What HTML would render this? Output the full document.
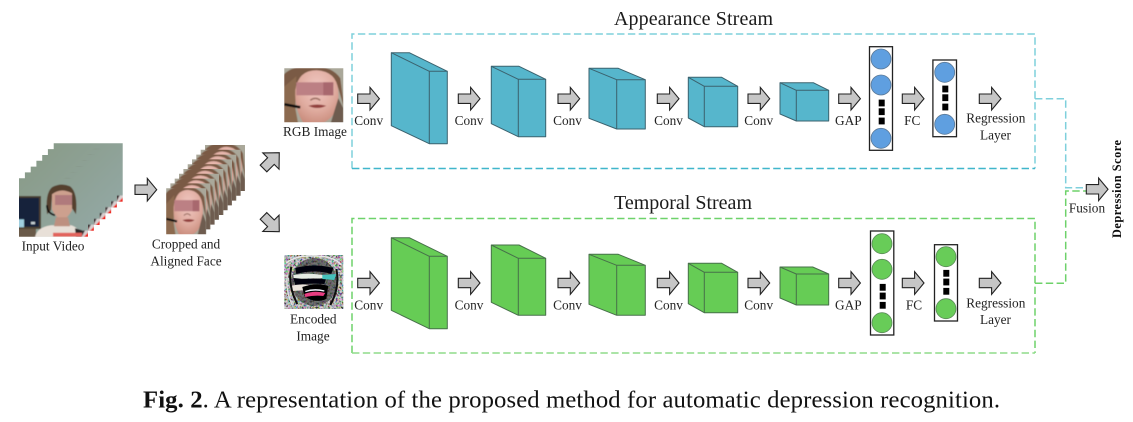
<!DOCTYPE html>
<html><head><meta charset="utf-8"><style>
html,body{margin:0;padding:0;background:#fff}
svg{display:block}
text{font-family:"Liberation Serif",serif;fill:#222}
.t{font-size:13.3px;text-anchor:middle}
.h{font-size:20px;fill:#1a1a1a}
</style></head><body>
<svg width="1133" height="422" viewBox="0 0 1133 422" xmlns="http://www.w3.org/2000/svg">
<defs>
<filter id="all" filterUnits="userSpaceOnUse" x="0" y="0" width="1133" height="422"><feGaussianBlur stdDeviation="0.3"/></filter>
<filter id="b" x="-5%" y="-5%" width="110%" height="110%"><feGaussianBlur stdDeviation="0.6"/></filter>
<filter id="b2" x="-5%" y="-5%" width="110%" height="110%"><feGaussianBlur stdDeviation="0.35"/></filter>
<filter id="n" x="0" y="0" width="100%" height="100%">
<feTurbulence type="fractalNoise" baseFrequency="0.5" numOctaves="2" seed="4"/>
<feColorMatrix type="matrix" values="2.6 .9 .9 0 -1.7  .9 2.6 .9 0 -1.7  .9 .9 2.6 0 -1.7  0 0 0 0 1"/>
</filter>
<linearGradient id="wall" x1="0" y1="0" x2="1" y2="1"><stop offset="0" stop-color="#8a9c8a"/><stop offset="1" stop-color="#93a8a4"/></linearGradient>
<radialGradient id="skin" cx=".5" cy=".32" r=".7"><stop offset="0" stop-color="#f0c8c2"/><stop offset=".6" stop-color="#e0aca0"/><stop offset="1" stop-color="#c98c7c"/></radialGradient>
<path id="a" d="M0 -4.7H12.3V-11.3L21.7 0 12.3 11.3V4.7H0Z" fill="#c6c6c6" stroke="#222" stroke-width="1.1"/>
<path id="a2" d="M0 -4.7H10.5V-11.5L22.3 0 10.5 11.5V4.7H0Z" fill="#c6c6c6" stroke="#222" stroke-width="1.1"/>
<g id="ds"><rect x="-3" y="-3.4" width="6" height="6.8" fill="#000"/></g>
<symbol id="vid" viewBox="0 0 69 58.4" width="69" height="58.4">
<g filter="url(#b)">
<rect x="-2" y="-2" width="73" height="63" fill="url(#wall)"/>
<rect x="-1" y="17.7" width="23" height="33" fill="#4c4030"/>
<rect x="-1" y="19.5" width="21" height="29" fill="#16243a"/>
<rect x="-1" y="41" width="6" height="8" fill="#9fcfe0"/>
<rect x="12" y="43.5" width="4" height="2.5" fill="#c6cfd2"/>
<rect x="-1" y="50.5" width="18" height="9" fill="#6b5a48"/>
<path d="M16 59 Q18 49 32 47 L52 47 Q60 49 62 59Z" fill="#e8e0d8"/>
<path d="M56 50 L63 52 L64 59 L57 59Z" fill="#2c2628"/>
<path d="M28 36 Q26 15 33 9 Q42 4 51 8 Q59 14 57 36 L53 30 L53 18 L33 18 L32 32Z" fill="#54402f"/>
<path d="M33 16 Q42 9 53 15 L53 32 Q48 41 43 41 Q37 40 33 31Z" fill="#cda08e"/>
<path d="M37 39 L49 39 L51 48 L35 48Z" fill="#bd9080"/>
<rect x="36" y="16.7" width="17" height="10" fill="#b07a7c"/>
<path d="M28 27 Q28 35 36 37" stroke="#111" stroke-width="1.8" fill="none"/>
<rect x="34" y="54.5" width="30" height="4" fill="#e2645c"/>
<rect x="63" y="52.2" width="7" height="7" fill="#d8d0d0"/>
<path d="M63 52.2 L66 52.2 L63 58Z" fill="#3a3436"/>
<path d="M64.5 59 L69.5 53.8 V59Z" fill="#f02018"/>
</g>
</symbol>
<symbol id="face" viewBox="0 0 59 54" width="59" height="54" preserveAspectRatio="none">
<g filter="url(#b)">
<rect x="-2" y="-2" width="63" height="58" fill="#aaa89a"/>
<path d="M-2 56 L-2 8 Q6 -3 28 -2 Q48 -2 56 10 L60 40 L54 20 Q46 2 28 3 Q14 4 11 30 L10 56Z" fill="#7a5a44"/>
<path d="M-2 20 L12 8 L11 40 L14 56 L-2 56Z" fill="#8c6a50"/>
<path d="M11 22 Q14 2 32 2 Q52 3 54 22 Q56 46 40 54 L20 56 Q10 42 11 22Z" fill="url(#skin)"/>
<path d="M54 30 L59 40 L59 56 L46 56Z" fill="#6e5c50"/>
<rect x="12" y="14" width="37" height="13" fill="#bc8084"/>
<rect x="39" y="14" width="10" height="13" fill="#a8686e"/>
<path d="M24 37.5 Q33 35 42 37.5 Q33 42 24 37.5Z" fill="#92403e"/>
<path d="M26 32 Q31 28 36 32" stroke="#a07468" stroke-width="1.5" fill="none"/>
<path d="M0 36 L16 39" stroke="#0a0a0a" stroke-width="2.6"/>
</g>
</symbol>
</defs>

<g filter="url(#all)">
<!-- headings -->
<text class="h" x="614" y="25" textLength="159">Appearance Stream</text>
<text class="h" x="614" y="209" textLength="138">Temporal Stream</text>

<!-- stream boxes -->
<g fill="none" stroke-width="1.5" stroke-dasharray="7.4 3.4">
<path d="M352 168.5V34H1035V168.5" stroke="#7fd0dc"/>
<path d="M352 168.5H1035" stroke="#3fb6cb"/>
<path d="M352 353V218.5H1035V353" stroke="#6ed26a"/>
<path d="M352 353H1035" stroke="#8fdc8a"/>
<path d="M1035 98.7H1065.7V187.7H1086" stroke="#7fd0dc"/>
<path d="M1035 283.3H1065.7V191H1086" stroke="#6ed26a"/>
</g>

<!-- left pipeline images -->
<use href="#vid" x="53.7" y="143.3"/>
<use href="#vid" x="47.9" y="149.1"/>
<use href="#vid" x="42.2" y="155"/>
<use href="#vid" x="36.4" y="160.8"/>
<use href="#vid" x="30.7" y="166.6"/>
<use href="#vid" x="24.9" y="172.4"/>
<use href="#vid" x="19" y="178.3"/>

<use href="#face" x="205" y="145" width="40" height="46"/>
<use href="#face" x="200.7" y="149.8" width="40" height="46"/>
<use href="#face" x="196.3" y="154.6" width="40" height="46"/>
<use href="#face" x="192" y="159.4" width="40" height="46"/>
<use href="#face" x="187.7" y="164.2" width="40" height="46"/>
<use href="#face" x="183.4" y="169" width="40" height="46"/>
<use href="#face" x="179" y="173.8" width="40" height="46"/>
<use href="#face" x="174.7" y="178.6" width="40" height="46"/>
<use href="#face" x="170.4" y="183.4" width="40" height="46"/>
<use href="#face" x="166.2" y="188.2" width="40" height="46"/>

<use href="#face" x="284.3" y="68.3" width="59" height="54"/>

<!-- encoded image -->
<svg x="284.3" y="255" width="59" height="54" viewBox="0 0 59 54">
<rect width="59" height="54" fill="#999"/>
<rect width="59" height="54" filter="url(#n)" opacity=".6"/>
<g filter="url(#b2)">
<ellipse cx="30" cy="27" rx="23" ry="24" fill="#303034" opacity=".6"/>
<path d="M11 13 Q30 8 49 13 L47 19 Q30 14 12 19Z" fill="#050508"/>
<path d="M9 20 Q25 17 44 21 L43 24 Q25 22 10 25Z" fill="#e6ece4"/>
<path d="M9 23 Q25 25 42 23 L40 29 Q24 28 11 30Z" fill="#050508"/>
<path d="M38 20 L52 19 L50 25 L38 24Z" fill="#45c0bc"/>
<path d="M6 31 Q18 28 28 31 L24 35 L8 36Z" fill="#ece4dc"/>
<path d="M18 32 Q32 27 44 31 L42 44 Q30 49 20 41Z" fill="#030305"/>
<path d="M20 39 Q30 35 41 38 L39 41 Q30 40 21 42Z" fill="#e83c80"/>
<path d="M21 36.5 Q30 33.5 40 36" stroke="#f2f6ff" stroke-width="1.4" fill="none"/>
<path d="M2 8 Q12 0 30 1 Q50 1 57 10" stroke="#e6e6e6" stroke-width="1.5" fill="none"/>
<path d="M7 12 Q3 30 13 49" stroke="#0c0c0c" stroke-width="2" fill="none"/>
<path d="M52 14 Q56 32 46 50" stroke="#0c0c0c" stroke-width="2" fill="none"/>
<path d="M3 20 Q1 36 8 50" stroke="#e0e0e0" stroke-width="1.3" fill="none"/>
</g>
</svg>

<!-- left arrows -->
<use href="#a" transform="translate(135 189.7)"/>
<use href="#a2" transform="translate(263.5 168.5) rotate(-45)"/>
<use href="#a2" transform="translate(263.5 215.9) rotate(45)"/>

<!-- row arrows -->
<use href="#a" x="357.7" y="98.7"/><use href="#a" x="458.3" y="98.7"/><use href="#a" x="558" y="98.7"/><use href="#a" x="657.3" y="98.7"/><use href="#a" x="748" y="98.7"/><use href="#a" x="838.7" y="98.7"/><use href="#a" x="902.3" y="98.7"/><use href="#a" x="979.3" y="98.7"/>
<use href="#a" x="357.7" y="283"/><use href="#a" x="458.3" y="283"/><use href="#a" x="558" y="283"/><use href="#a" x="657.3" y="283"/><use href="#a" x="748" y="283"/><use href="#a" x="838.7" y="283"/><use href="#a" x="902.3" y="283"/><use href="#a" x="979.3" y="283"/>
<use href="#a" x="1086.3" y="189.3"/>

<!-- blue cuboids -->
<g fill="#57b6cc" stroke="#3a626e" stroke-width="1" stroke-linejoin="round">
<path d="M391.3 52.7H409.3L447.3 71.3V143.7H429.3L391.3 125.7Z"/><path d="M391.3 52.7L429.3 71.3H447.3M429.3 71.3V143.7" fill="none"/>
<path d="M491.3 66.3H519L545.7 79.3V136.7H518.3L491.3 123.7Z"/><path d="M491.3 66.3L518.3 79.3H545.7M518.3 79.3V136.7" fill="none"/>
<path d="M589 68.3H618.3L645.3 79.7V129H616.7L589 118.3Z"/><path d="M589 68.3L616.7 79.7H645.3M616.7 79.7V129" fill="none"/>
<path d="M688.3 77.3H721.7L737.7 86.3V126.7H704.3L688.3 118Z"/><path d="M688.3 77.3L704.3 86.3H737.7M704.3 86.3V126.7" fill="none"/>
<path d="M780 82.7H813.3L828.7 90.3V121H796.3L780 114Z"/><path d="M780 82.7L796.3 90.3H828.7M796.3 90.3V121" fill="none"/>
</g>
<!-- green cuboids -->
<g fill="#66cc55" stroke="#47704a" stroke-width="1" stroke-linejoin="round">
<path d="M391.3 237.7H409.3L447.3 256.3V328.7H429.3L391.3 310.3Z"/><path d="M391.3 237.7L429.3 256.3H447.3M429.3 256.3V328.7" fill="none"/>
<path d="M491.3 245H519L545.7 258.3V315.3H518.3L491.3 302.3Z"/><path d="M491.3 245L518.3 258.3H545.7M518.3 258.3V315.3" fill="none"/>
<path d="M589 254.3H618.3L645.3 265.3V315.3H616.7L589 304.3Z"/><path d="M589 254.3L616.7 265.3H645.3M616.7 265.3V315.3" fill="none"/>
<path d="M688.3 263.3H721.7L737.7 272.3V312.7H704.3L688.3 303.7Z"/><path d="M688.3 263.3L704.3 272.3H737.7M704.3 272.3V312.7" fill="none"/>
<path d="M780 267H812.7L828.7 274V305H796.3L780 298Z"/><path d="M780 267L796.3 274H828.7M796.3 274V305" fill="none"/>
</g>

<!-- layer columns -->
<g fill="#fff" stroke="#222" stroke-width="1.3">
<rect x="869.5" y="46.7" width="23" height="103.6"/><rect x="932.9" y="60" width="23.6" height="76.7"/>
<rect x="870.5" y="231" width="23.3" height="104"/><rect x="934.5" y="244.7" width="23" height="76.3"/>
</g>
<g fill="#5f9fe0" stroke="#5a7896" stroke-width=".8">
<circle cx="881" cy="59" r="10"/><circle cx="881" cy="85" r="10"/><circle cx="881" cy="138.3" r="10"/>
<circle cx="944.7" cy="72.3" r="10"/><circle cx="944.7" cy="124.3" r="10"/>
</g>
<g fill="#68cc58" stroke="#5a8a58" stroke-width=".8">
<circle cx="882" cy="243.7" r="10"/><circle cx="882" cy="269.3" r="10"/><circle cx="882" cy="322.7" r="10"/>
<circle cx="946" cy="256.7" r="10"/><circle cx="946" cy="308.7" r="10"/>
</g>
<use href="#ds" x="881.7" y="103"/><use href="#ds" x="881.7" y="111.7"/><use href="#ds" x="881.7" y="121"/>
<use href="#ds" x="945.3" y="89"/><use href="#ds" x="945.3" y="97.7"/><use href="#ds" x="945.3" y="107"/>
<use href="#ds" x="882.7" y="287.3"/><use href="#ds" x="882.7" y="296"/><use href="#ds" x="882.7" y="305.3"/>
<use href="#ds" x="946.3" y="273.3"/><use href="#ds" x="946.3" y="282"/><use href="#ds" x="946.3" y="291.3"/>

<!-- labels -->
<text class="t" x="53" y="250.7">Input Video</text>
<text class="t" x="186" y="248.7">Cropped and</text>
<text class="t" x="186" y="265.7">Aligned Face</text>
<text class="t" x="315" y="136">RGB Image</text>
<text class="t" x="313.3" y="323.3">Encoded</text>
<text class="t" x="313" y="340.7">Image</text>

<text class="t" x="368.7" y="125">Conv</text><text class="t" x="469" y="125">Conv</text><text class="t" x="567.5" y="125">Conv</text><text class="t" x="668.5" y="125">Conv</text><text class="t" x="758.7" y="125">Conv</text>
<text class="t" x="848.3" y="125">GAP</text><text class="t" x="912.3" y="125">FC</text>
<text class="t" x="995.8" y="122.7">Regression</text><text class="t" x="995.5" y="139.7">Layer</text>

<text class="t" x="368.7" y="309.3">Conv</text><text class="t" x="469" y="309.3">Conv</text><text class="t" x="567.5" y="309.3">Conv</text><text class="t" x="668.5" y="309.3">Conv</text><text class="t" x="758.7" y="309.3">Conv</text>
<text class="t" x="848.3" y="309.3">GAP</text><text class="t" x="914" y="309.3">FC</text>
<text class="t" x="995.8" y="307.3">Regression</text><text class="t" x="995.5" y="324">Layer</text>

<text class="t" x="1087" y="212.7">Fusion</text>
<text transform="translate(1121 238) rotate(-90)" font-size="12.3" font-weight="bold" style="font-weight:bold;fill:#111" textLength="98">Depression Score</text>
</g>

<!-- caption -->
<text x="143" y="407.7" font-size="24.7" style="fill:#111" textLength="857"><tspan font-weight="bold">Fig. 2</tspan>. A representation of the proposed method for automatic depression recognition.</text>
</svg>
</body></html>
